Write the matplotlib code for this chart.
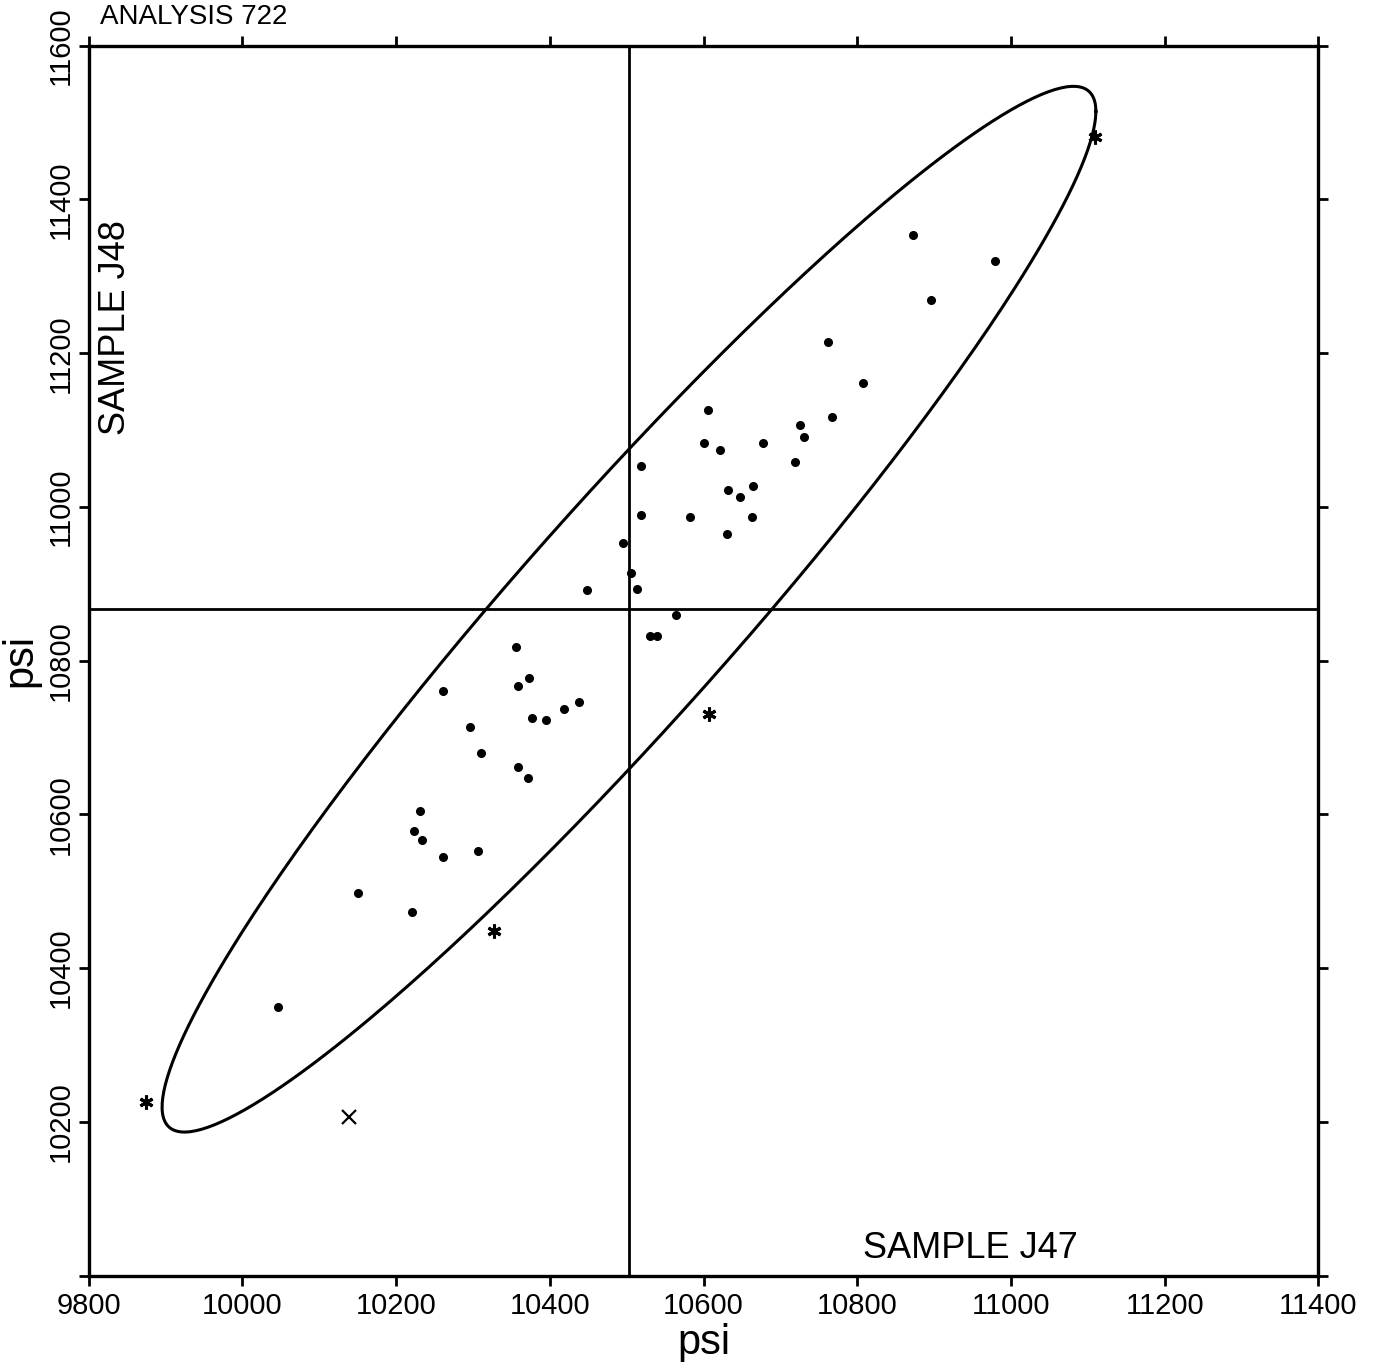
# Bivariate scatter of two samples with confidence ellipse
import numpy as np
import matplotlib
matplotlib.use('Agg')
import matplotlib.pyplot as plt

plt.rcParams['font.family'] = ['Liberation Sans', 'DejaVu Sans']

# Paired results (psi)
j47 = [10872, 10979, 10896, 10762, 10808, 10606, 10767, 10726, 10731, 10601,
       10621, 10677, 10719, 10518, 10632, 10665, 10647, 10583, 10519, 10663,
       10631, 10495, 10506, 10514, 10449, 10564, 10531, 10540, 10356, 10373,
       10358, 10261, 10438, 10418, 10377, 10395, 10296, 10310, 10358, 10371,
       10231, 10223, 10234, 10261, 10307, 10150, 10221, 10046]
j48 = [11354, 11320, 11269, 11215, 11161, 11126, 11117, 11106, 11091, 11083,
       11074, 11083, 11059, 11053, 11022, 11027, 11013, 10987, 10990, 10987,
       10965, 10953, 10914, 10893, 10892, 10860, 10832, 10832, 10818, 10777,
       10767, 10761, 10746, 10737, 10726, 10723, 10714, 10680, 10662, 10648,
       10604, 10579, 10567, 10544, 10553, 10498, 10473, 10350]

# flagged results
out_x = [11109, 10607, 10328, 9874]
out_y = [11481, 10731, 10449, 10226]

# excluded result
excl_x = [10139]
excl_y = [10206]

# means and ellipse shape (half extents, correlation)
mean_x = 10503
mean_y = 10867
ell_sx = 607.5
ell_sy = 680.2
ell_r = 0.952

fig = plt.figure(figsize=(13.73, 13.62), dpi=100)
ax = fig.add_axes([0.0646, 0.0634, 0.8956, 0.903])

t = np.linspace(0, 2 * np.pi, 400)
ex = mean_x + ell_sx * np.cos(t)
ey = mean_y + ell_sy * (ell_r * np.cos(t) + np.sqrt(1 - ell_r ** 2) * np.sin(t))
ax.plot(ex, ey, color='black', lw=2.2)

ax.axvline(mean_x, color='black', lw=2)
ax.axhline(mean_y, color='black', lw=2)

ax.plot(j47, j48, 'o', color='black', ms=5.5, mec='black')
ax.plot(out_x, out_y, marker=(6, 2, 0), ls='none', color='black', ms=10, mew=2.2)
ax.plot(excl_x, excl_y, marker='x', ls='none', color='black', ms=10, mew=1.6)

ax.set_xlim(9800, 11400)
ax.set_ylim(10000, 11600)
xt = np.arange(9800, 11401, 200)
yt = np.arange(10000, 11601, 200)
ax.set_xticks(xt)
ax.set_xticklabels([str(v) for v in xt])
ax.set_yticks(yt)
ax.set_yticklabels([''] + [str(v) for v in yt[1:]], rotation=90, va='center')

ax.tick_params(axis='both', direction='out', length=7, width=2, labelsize=21,
               top=True, right=True, labeltop=False, labelright=False)
ax.tick_params(axis='x', pad=5)
ax.tick_params(axis='y', pad=3)
for s in ax.spines.values():
    s.set_linewidth(2.4)

ax.set_xlabel('psi', fontsize=30, labelpad=2)
ax.set_ylabel('psi', fontsize=30)
ax.yaxis.set_label_coords(-0.039, 0.5)

ax.text(0.022, 0.771, 'SAMPLE J48', transform=ax.transAxes, rotation=90,
        ha='center', va='center', fontsize=26)
ax.text(0.717, 0.0217, 'SAMPLE J47', transform=ax.transAxes,
        ha='center', va='center', fontsize=26)
ax.text(0.0092, 1.0233, 'ANALYSIS 722', transform=ax.transAxes,
        ha='left', va='center', fontsize=20)

fig.savefig('out.png', dpi=100)
